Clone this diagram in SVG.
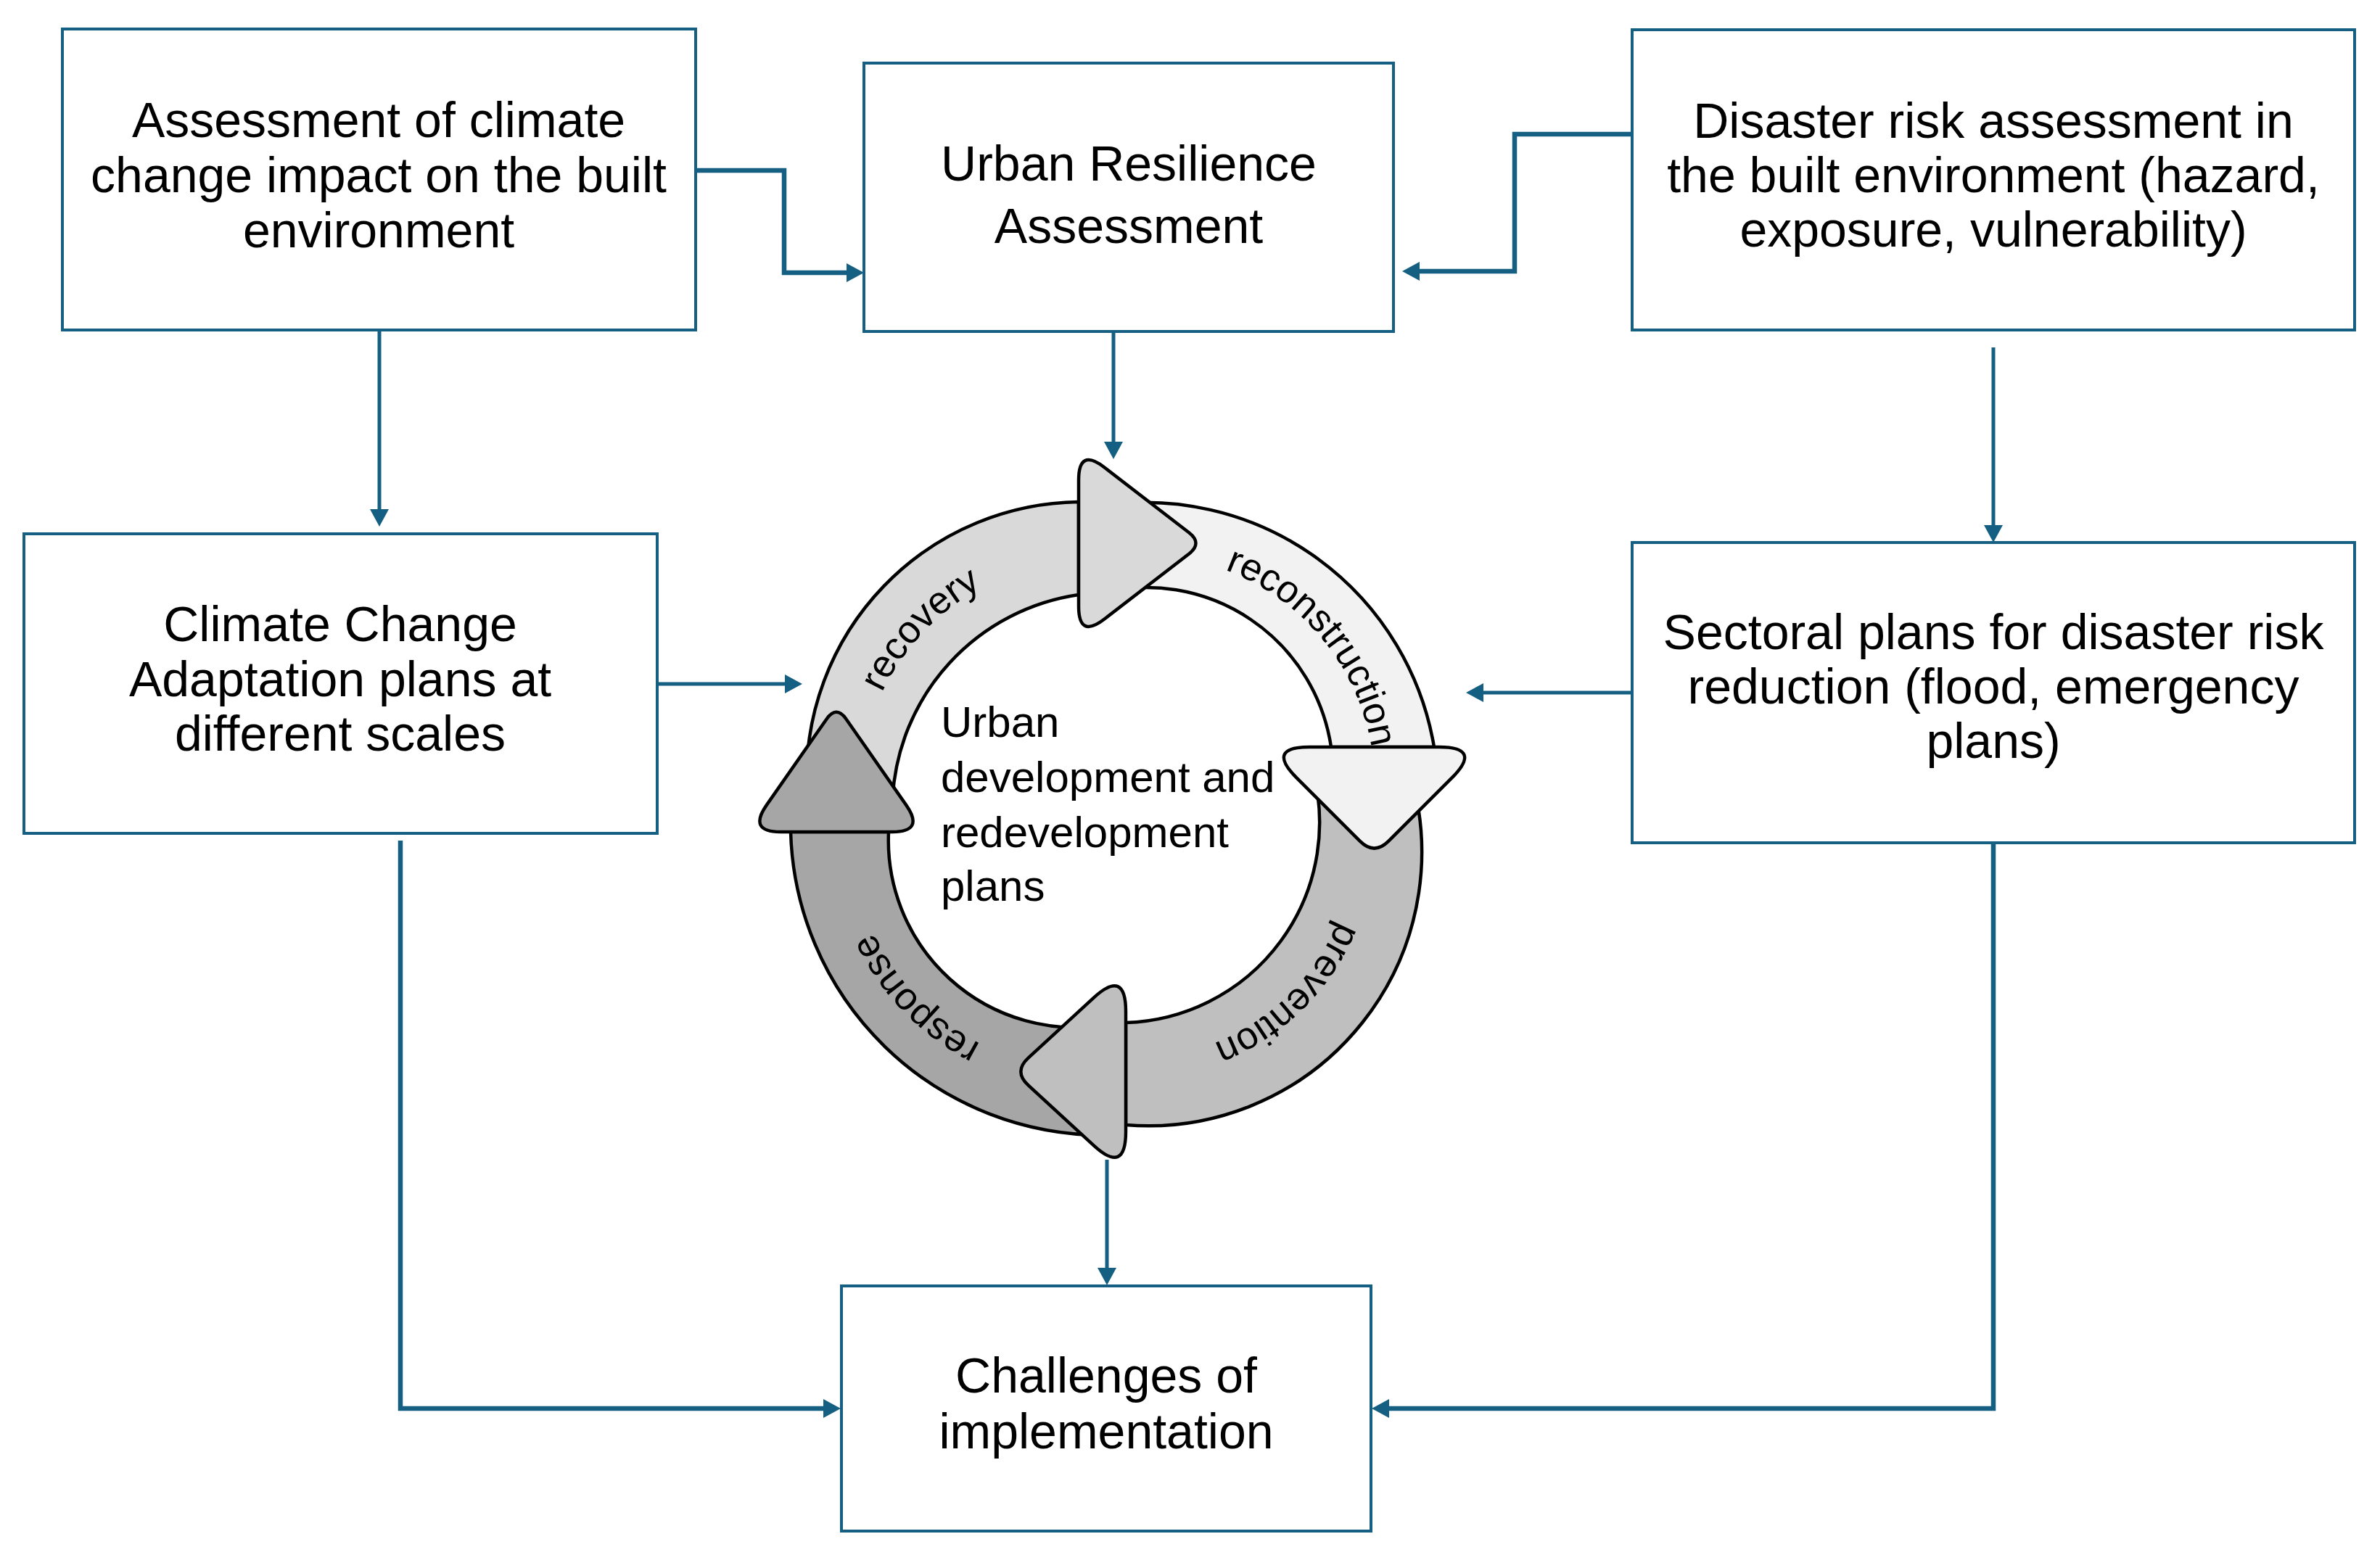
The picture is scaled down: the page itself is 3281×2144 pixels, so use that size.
<svg xmlns="http://www.w3.org/2000/svg" width="3281" height="2144" viewBox="0 0 3281 2144">
<defs>
<style>
.box{fill:#ffffff;stroke:#156082;stroke-width:4}
.t{font-family:"Liberation Sans",Arial,sans-serif;font-size:68px;fill:#000000;text-anchor:middle}
.ct{font-family:"Liberation Sans",Arial,sans-serif;font-size:60px;fill:#000000}
.lbl{font-family:"Liberation Sans",Arial,sans-serif;font-size:53px;fill:#000000;text-anchor:middle}
.c{fill:none;stroke:#156082;stroke-width:5;marker-end:url(#ah)}
.cb{fill:none;stroke:#156082;stroke-width:6.5;marker-end:url(#ah)}
.seg{stroke:#000000;stroke-width:4.5;stroke-linejoin:round}
</style>
<marker id="ah" markerUnits="userSpaceOnUse" markerWidth="24" markerHeight="26" refX="12" refY="13" orient="auto" viewBox="0 0 24 26">
<path d="M0,0 L24,13 L0,26 Z" fill="#156082"/>
</marker>
<path id="pRecovery" d="M1184.3,1080.7 A325,325 0 0 1 1468.3,772.8"/>
<path id="pReconstruction" d="M1609.3,767.5 A316,316 0 0 1 1893.5,1112.3"/>
<path id="pPrevention" d="M1865.6,1184.3 A304,304 0 0 1 1587,1458.1"/>
<path id="pResponse" d="M1466.5,1473.2 A328,328 0 0 1 1173.8,1170"/>
</defs>
<rect x="0" y="0" width="3281" height="2144" fill="#ffffff"/>

<g id="node-climate-impact">
<rect class="box" x="86" y="40" width="873" height="415"/>
<text class="t" x="522" y="189">Assessment of climate</text>
<text class="t" x="522" y="265">change impact on the built</text>
<text class="t" x="522" y="341">environment</text>
</g>

<g id="node-urban-resilience">
<rect class="box" x="1191" y="87" width="730" height="370"/>
<text class="t" x="1556" y="249">Urban Resilience</text>
<text class="t" x="1556" y="335">Assessment</text>
</g>

<g id="node-disaster-risk">
<rect class="box" x="2250" y="41" width="996" height="414"/>
<text class="t" x="2748" y="190">Disaster risk assessment in</text>
<text class="t" x="2748" y="265">the built environment (hazard,</text>
<text class="t" x="2748" y="340">exposure, vulnerability)</text>
</g>

<g id="node-adaptation-plans">
<rect class="box" x="33" y="736" width="873" height="413"/>
<text class="t" x="469" y="884">Climate Change</text>
<text class="t" x="469" y="960">Adaptation plans at</text>
<text class="t" x="469" y="1035">different scales</text>
</g>

<g id="node-sectoral-plans">
<rect class="box" x="2250" y="748" width="996" height="414"/>
<text class="t" x="2748" y="895">Sectoral plans for disaster risk</text>
<text class="t" x="2748" y="970">reduction (flood, emergency</text>
<text class="t" x="2748" y="1045">plans)</text>
</g>

<g id="node-challenges">
<rect class="box" x="1160" y="1773" width="730" height="338"/>
<text class="t" x="1525" y="1920">Challenges of</text>
<text class="t" x="1525" y="1997">implementation</text>
</g>

<g id="node-cycle">
<path id="band-recovery" class="seg" fill="#D9D9D9" d="M1112,1080 A380,380 0 0 1 1487,692 L1487,820 A300,300 0 0 0 1230.5,1100 Z"/>
<path id="band-reconstruction" class="seg" fill="#F2F2F2" d="M1520,697 A404,404 0 0 1 1977,1030 L1835,1030 A258,258 0 0 0 1520,817 Z"/>
<path id="band-prevention" class="seg" fill="#BFBFBF" d="M1942,1060 A377,377 0 0 1 1552,1551 L1552,1410 A276,276 0 0 0 1809,1060 Z"/>
<path id="band-response" class="seg" fill="#A6A6A6" d="M1520,1565 A430,430 0 0 1 1090,1147 L1225,1147 A258,258 0 0 0 1520,1414 Z"/>
<path id="head-recovery" class="seg" fill="#D9D9D9" d="M1522.6,644.5 L1639,734.3 Q1658,749 1639,763.7 L1522.6,853.5 Q1487,881 1487,836 L1487,662 Q1487,617 1522.6,644.5 Z"/>
<path id="head-reconstruction" class="seg" fill="#F2F2F2" d="M1805,1030 L1984,1030 Q2044,1030 2001.6,1072.4 L1914.3,1159.7 Q1894.5,1179.5 1874.7,1159.7 L1787.4,1072.4 Q1745,1030 1805,1030 Z"/>
<path id="head-prevention" class="seg" fill="#BFBFBF" d="M1507.8,1375.6 L1417.6,1458.6 Q1397,1477.5 1417.6,1496.4 L1507.8,1579.4 Q1552,1620 1552,1560 L1552,1395 Q1552,1335 1507.8,1375.6 Z"/>
<path id="head-response" class="seg" fill="#A6A6A6" d="M1056.7,1110.1 L1139.3,991.7 Q1153,972 1166.7,991.7 L1249.3,1110.1 Q1275,1147 1230,1147 L1076,1147 Q1031,1147 1056.7,1110.1 Z"/>
<text class="lbl"><textPath href="#pRecovery" startOffset="51%">recovery</textPath></text>
<text class="lbl"><textPath href="#pReconstruction" startOffset="50%">reconstruction</textPath></text>
<text class="lbl"><textPath href="#pPrevention" startOffset="50%">prevention</textPath></text>
<text class="lbl"><textPath href="#pResponse" startOffset="50%">response</textPath></text>
<text class="ct" x="1297" y="1016">Urban</text>
<text class="ct" x="1297" y="1092">development and</text>
<text class="ct" x="1297" y="1168">redevelopment</text>
<text class="ct" x="1297" y="1242">plans</text>
</g>

<g id="connectors">
<path class="cb" d="M959,235 H1081 V376 H1179"/>
<path class="cb" d="M2250,185 H2088 V374 H1945"/>
<path class="c" d="M523,455 V714"/>
<path class="c" d="M1535,457 V621"/>
<path class="c" d="M2748,479 V736"/>
<path class="c" d="M906,943 H1094"/>
<path class="c" d="M2250,955 H2033"/>
<path class="c" d="M1526,1599 V1760"/>
<path class="cb" d="M552,1159 V1942 H1147"/>
<path class="cb" d="M2748,1162 V1942 H1903"/>
</g>
</svg>
